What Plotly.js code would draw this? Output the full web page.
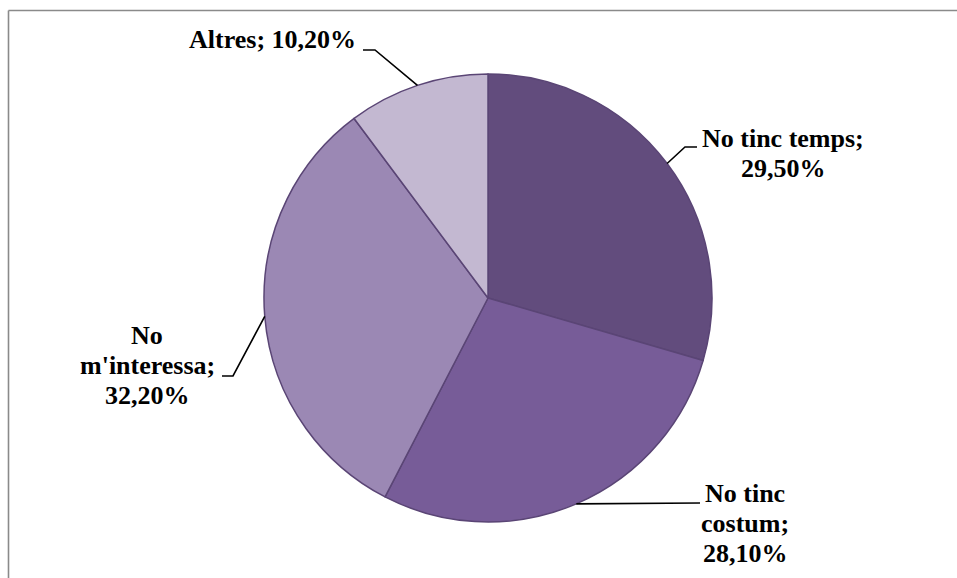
<!DOCTYPE html>
<html>
<head>
<meta charset="utf-8">
<script src="https://cdn.plot.ly/plotly-3.0.1.min.js"></script>
<style>html,body{margin:0;padding:0;background:#fff;}#chart{width:957px;height:578px;}</style>
</head>
<body>
<div id="chart"></div>
<script>
// ---- data ----
var categories = ["No tinc temps", "No tinc costum", "No m'interessa", "Altres"];
var values = [29.5, 28.1, 32.2, 10.2];
var colors = ["#624C7D", "#775C98", "#9B88B4", "#C3B8D1"];

// ---- layout constants (pixels) ----
var W = 957, H = 578;
var CX = 488, CY = 298, R = 224;
function px(x) { return x / W; }
function py(y) { return 1 - y / H; }

function fmt(v) { return v.toFixed(2).replace('.', ',') + '%'; }

// line breaks for each label (style)
var labelLines = [
  [categories[0] + ';', fmt(values[0])],
  ["No tinc", "costum;", fmt(values[1])],
  ["No", "m'interessa;", fmt(values[2])],
  [categories[3] + '; ' + fmt(values[3])]
];
// label centre x and first-line centre y, pixels
var labelPos = [
  {x: 783, y: 138},
  {x: 745, y: 493},
  {x: 147, y: 335},
  {x: 272, y: 40}
];
var LINE = 30;
// leader line elbows: [elbow, end] in pixels
var leaderPts = [
  [[685, 147], [697, 147]],
  [[700, 503], [700, 503]],
  [[233, 376], [222, 376]],
  [[375, 50], [363, 50]]
];

var FONT = "'Liberation Serif', 'Times New Roman', Times, serif";

var total = values.reduce(function (a, b) { return a + b; }, 0);
var annotations = [];
var shapes = [];
var cum = 0;
for (var i = 0; i < values.length; i++) {
  var mid = (cum + values[i] / 2) / total;
  cum += values[i];
  var ang = mid * 2 * Math.PI;
  var ex = CX + R * Math.sin(ang), ey = CY - R * Math.cos(ang);
  var p1 = leaderPts[i][0], p2 = leaderPts[i][1];
  shapes.push({
    type: 'path', xref: 'paper', yref: 'paper',
    path: 'M ' + px(ex) + ',' + py(ey) + ' L ' + px(p1[0]) + ',' + py(p1[1]) + ' L ' + px(p2[0]) + ',' + py(p2[1]),
    line: {color: '#000', width: 1.6}
  });
  for (var k = 0; k < labelLines[i].length; k++) {
    annotations.push({
      xref: 'paper', yref: 'paper',
      x: px(labelPos[i].x), y: py(labelPos[i].y + k * LINE),
      xanchor: 'center', yanchor: 'middle',
      text: labelLines[i][k],
      showarrow: false,
      font: {family: FONT, size: 26, color: '#000', weight: 'bold'}
    });
  }
}

// frame (top and left edges)
shapes.push({type: 'line', xref: 'paper', yref: 'paper', x0: px(8.5), x1: 1, y0: py(10.5), y1: py(10.5), line: {color: '#8a8a8a', width: 1.6}});
shapes.push({type: 'line', xref: 'paper', yref: 'paper', x0: px(8.5), x1: px(8.5), y0: py(10.5), y1: 0, line: {color: '#8a8a8a', width: 1.6}});

var trace = {
  type: 'pie',
  labels: categories,
  values: values,
  sort: false,
  direction: 'clockwise',
  rotation: 0,
  textinfo: 'none',
  hoverinfo: 'label+percent',
  marker: {colors: colors, line: {color: '#5A4575', width: 1.5}},
  domain: {x: [px(CX - R), px(CX + R)], y: [py(CY + R), py(CY - R)]}
};

Plotly.newPlot('chart', [trace], {
  width: W, height: H,
  margin: {l: 0, r: 0, t: 0, b: 0},
  paper_bgcolor: '#fff',
  font: {family: FONT},
  showlegend: false,
  annotations: annotations,
  shapes: shapes
}, {displayModeBar: false, staticPlot: true});
</script>
</body>
</html>
